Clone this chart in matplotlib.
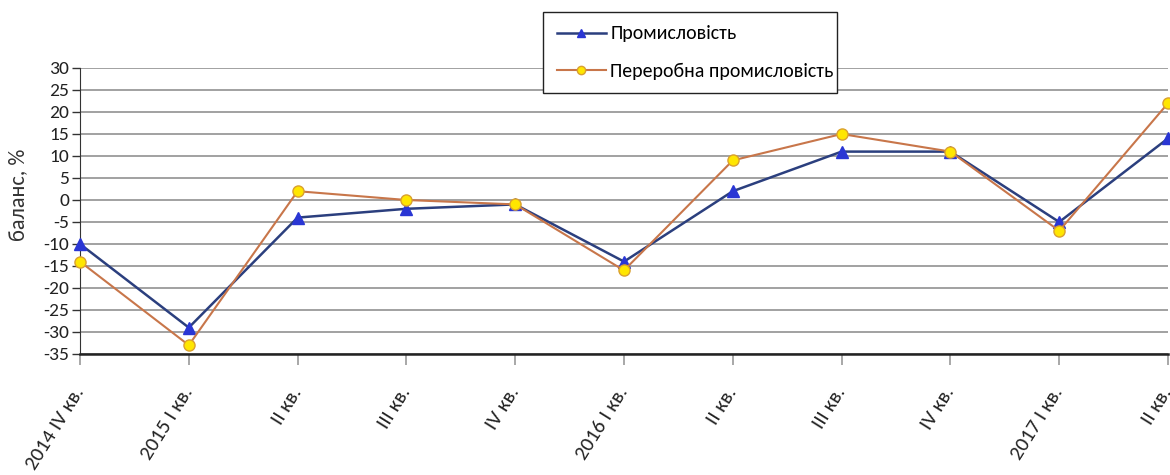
import matplotlib
matplotlib.use("Agg")
import matplotlib.pyplot as plt
from matplotlib import font_manager

available = {f.name for f in font_manager.fontManager.ttflist}
preferred = ["Carlito", "PT Sans Narrow", "Liberation Sans Narrow", "Roboto Condensed",
             "Fira Sans Condensed", "Open Sans Condensed", "Noto Sans", "DejaVu Sans"]
base_font = next(f for f in preferred if f in available)
plt.rcParams["font.family"] = [base_font, "DejaVu Sans"]

quarters = ["2014 IV кв.", "2015 I кв.", "II кв.", "III кв.", "IV кв.",
            "2016 I кв.", "II кв.", "III кв.", "IV кв.", "2017 I кв.", "II кв."]
industry = [-10, -29, -4, -2, -1, -14, 2, 11, 11, -5, 14]
manufacturing = [-14, -33, 2, 0, -1, -16, 9, 15, 11, -7, 22]
y_ticks = list(range(-35, 31, 5))

W, H = 1170, 475
fig = plt.figure(figsize=(W / 100, H / 100), dpi=100)
ax = fig.add_axes([80 / W, 1 - 354 / H, 1088 / W, 286 / H])

x = list(range(len(quarters)))
ax.plot(x, industry, color="#2b3f7e", lw=1.8, marker="^", ms=8.5,
        markerfacecolor="#2a36d4", markeredgecolor="#2a36d4",
        label="Промисловість", zorder=3, clip_on=False)
ax.plot(x, manufacturing, color="#c8764a", lw=1.5, marker="o", ms=8,
        markerfacecolor="#ffe600", markeredgecolor="#d9a030",
        label="Переробна промисловість", zorder=4, clip_on=False)

ax.set_xlim(0, len(quarters) - 1)
ax.set_ylim(-35, 30)
ax.set_yticks(y_ticks)
ax.set_yticklabels([str(v) for v in y_ticks], fontsize=14, color="#222222")
ax.set_xticks(x)
ax.set_xticklabels(quarters, rotation=58, ha="right", va="center",
                   rotation_mode="anchor", fontsize=15, color="#222222")
ax.tick_params(axis="x", length=8, width=1.2, pad=17, color="#999999")
ax.tick_params(axis="y", length=6, width=1.0, pad=2, color="#333333")
ax.grid(axis="y", color="#9a9a9a", lw=1.3)
ax.set_axisbelow(True)
for side in ["top", "right"]:
    ax.spines[side].set_visible(False)
ax.spines["left"].set_color("#333333")
ax.spines["bottom"].set_color("#222222")
ax.spines["bottom"].set_linewidth(1.8)
ax.set_ylabel("баланс, %", fontsize=16, color="#333333")
ax.yaxis.set_label_coords(-0.048, 0.556)

leg = fig.legend(loc="center",
                 bbox_to_anchor=(543 / W, 1 - 92 / H, 294 / W, 79 / H),
                 mode="expand", borderaxespad=0, fontsize=14.3, frameon=True,
                 fancybox=False, edgecolor="#222222", framealpha=1,
                 handlelength=2.5, markerscale=0.75, borderpad=0.68,
                 labelspacing=1.0, handletextpad=0.2)
leg.get_frame().set_linewidth(1.0)

fig.savefig("out.png", dpi=100)
